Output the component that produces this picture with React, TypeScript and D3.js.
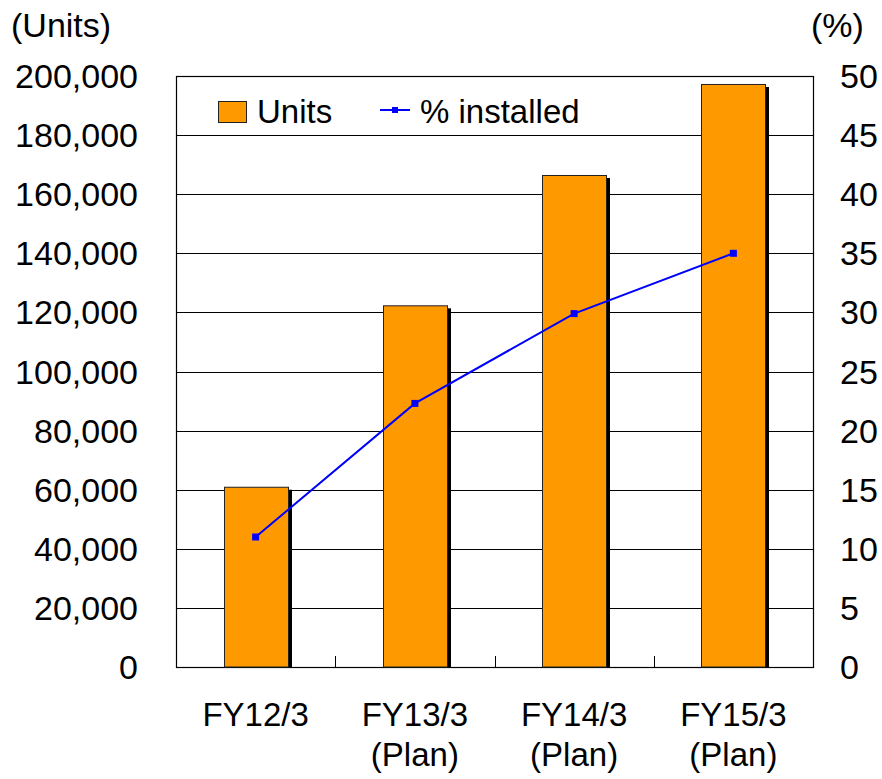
import React, { useRef, useEffect } from 'react';
import * as d3 from 'd3';

const categories: string[][] = [
    ['FY12/3'],
    ['FY13/3', '(Plan)'],
    ['FY14/3', '(Plan)'],
    ['FY15/3', '(Plan)'],
];
const units: number[] = [61000, 122400, 166500, 197300];
const pctInstalled: number[] = [11.0, 22.3, 29.9, 35.0];
const leftTicks: number[] = [0, 20000, 40000, 60000, 80000, 100000, 120000, 140000, 160000, 180000, 200000];
const rightTicks: number[] = [0, 5, 10, 15, 20, 25, 30, 35, 40, 45, 50];

const W = 882;
const H = 779;
const FONT = '"Liberation Sans", Arial, sans-serif';

const App: React.FC = () => {
    const svgRef = useRef<SVGSVGElement | null>(null);

    useEffect(() => {
        const svg = d3.select(svgRef.current);
        svg.selectAll('*').remove();

        const left = 176, right = 813, top = 76, bottom = 667;

        const x = d3.scaleBand<number>()
            .domain(d3.range(categories.length))
            .range([left, right]);
        const yL = d3.scaleLinear().domain([0, 200000]).range([bottom, top]);
        const yR = d3.scaleLinear().domain([0, 50]).range([bottom, top]);

        // gridlines
        svg.append('g')
            .selectAll('line')
            .data(leftTicks)
            .enter()
            .append('line')
            .attr('x1', left)
            .attr('x2', right)
            .attr('y1', d => Math.round(yL(d)) + 0.5)
            .attr('y2', d => Math.round(yL(d)) + 0.5)
            .attr('stroke', '#000')
            .attr('stroke-width', 1);

        // plot frame
        svg.append('rect')
            .attr('x', left + 0.5)
            .attr('y', top + 0.5)
            .attr('width', right - left)
            .attr('height', bottom - top)
            .attr('fill', 'none')
            .attr('stroke', '#000')
            .attr('stroke-width', 1.2);

        // category ticks on bottom
        svg.append('g')
            .selectAll('line')
            .data(d3.range(1, categories.length))
            .enter()
            .append('line')
            .attr('x1', d => Math.round(left + d * x.step()) + 0.5)
            .attr('x2', d => Math.round(left + d * x.step()) + 0.5)
            .attr('y1', bottom)
            .attr('y2', bottom - 11)
            .attr('stroke', '#000');

        // bars with drop shadow
        const barW = 64;
        const bars = svg.append('g');
        units.forEach((v, i) => {
            const cx = x(i)! + x.bandwidth() / 2;
            const bx = Math.round(cx - barW / 2);
            bars.append('rect')
                .attr('x', bx + 4)
                .attr('y', yL(v) + 3)
                .attr('width', barW)
                .attr('height', bottom - yL(v) - 3)
                .attr('fill', '#000');
            bars.append('rect')
                .attr('x', bx + 0.5)
                .attr('y', yL(v) + 0.5)
                .attr('width', barW)
                .attr('height', bottom - yL(v) - 0.5)
                .attr('fill', '#FF9900')
                .attr('stroke', '#222')
                .attr('stroke-width', 1);
        });

        // % installed line
        const line = d3.line<number>()
            .x((_, i) => x(i)! + x.bandwidth() / 2)
            .y(d => yR(d));
        svg.append('path')
            .datum(pctInstalled)
            .attr('d', line)
            .attr('fill', 'none')
            .attr('stroke', '#0000FF')
            .attr('stroke-width', 2);
        svg.append('g')
            .selectAll('rect')
            .data(pctInstalled)
            .enter()
            .append('rect')
            .attr('x', (_, i) => x(i)! + x.bandwidth() / 2 - 3.5)
            .attr('y', d => yR(d) - 3.5)
            .attr('width', 7)
            .attr('height', 7)
            .attr('fill', '#0000FF');

        // left axis labels
        svg.append('g')
            .selectAll('text')
            .data(leftTicks)
            .enter()
            .append('text')
            .attr('x', 138)
            .attr('y', d => yL(d) + 12)
            .attr('text-anchor', 'end')
            .style('font-family', FONT)
            .style('font-size', '34px')
            .text(d => d3.format(',')(d));

        // right axis labels
        svg.append('g')
            .selectAll('text')
            .data(rightTicks)
            .enter()
            .append('text')
            .attr('x', 840)
            .attr('y', d => yR(d) + 12)
            .attr('text-anchor', 'start')
            .style('font-family', FONT)
            .style('font-size', '34px')
            .text(d => String(d));

        // axis titles
        svg.append('text')
            .attr('x', 11)
            .attr('y', 37)
            .style('font-family', FONT)
            .style('font-size', '34px')
            .text('(Units)');
        svg.append('text')
            .attr('x', 811)
            .attr('y', 37)
            .style('font-family', FONT)
            .style('font-size', '34px')
            .text('(%)');

        // category labels
        categories.forEach((lines, i) => {
            const cx = x(i)! + x.bandwidth() / 2;
            lines.forEach((t, j) => {
                svg.append('text')
                    .attr('x', cx)
                    .attr('y', 726 + j * 40)
                    .attr('text-anchor', 'middle')
                    .style('font-family', FONT)
                    .style('font-size', '33px')
                    .text(t);
            });
        });

        // legend
        const lg = svg.append('g');
        lg.append('rect')
            .attr('x', 218.5)
            .attr('y', 101.5)
            .attr('width', 28)
            .attr('height', 21)
            .attr('fill', '#FF9900')
            .attr('stroke', '#222');
        lg.append('text')
            .attr('x', 257)
            .attr('y', 123)
            .style('font-family', FONT)
            .style('font-size', '33px')
            .text('Units');
        lg.append('line')
            .attr('x1', 380)
            .attr('x2', 410)
            .attr('y1', 110)
            .attr('y2', 110)
            .attr('stroke', '#0000FF')
            .attr('stroke-width', 2);
        lg.append('rect')
            .attr('x', 392)
            .attr('y', 107)
            .attr('width', 6)
            .attr('height', 6)
            .attr('fill', '#0000FF');
        lg.append('text')
            .attr('x', 420)
            .attr('y', 123)
            .style('font-family', FONT)
            .style('font-size', '33px')
            .text('% installed');
    }, []);

    return (
        <svg
            ref={svgRef}
            width={W}
            height={H}
            style={{ position: 'absolute', left: 0, top: 0, background: '#fff' }}
        ></svg>
    );
};

export default App;
